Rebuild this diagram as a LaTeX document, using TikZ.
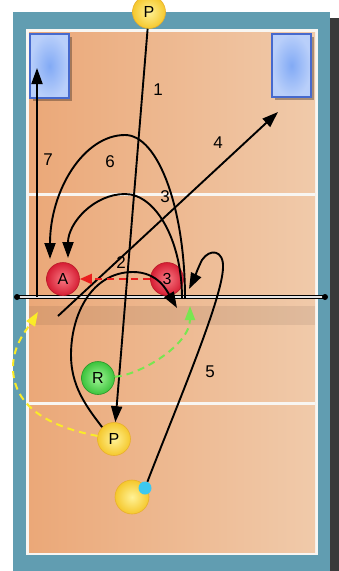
\documentclass[tikz,border=0pt]{standalone}
\usepackage{fontspec}
\setmainfont{Liberation Sans}
\usetikzlibrary{arrows.meta}
\definecolor{framec}{RGB}{97,157,177}
\definecolor{shadowc}{RGB}{58,58,58}
\definecolor{courtL}{RGB}{235,168,120}
\definecolor{courtR}{RGB}{240,202,170}
\definecolor{lineW}{RGB}{248,246,242}
\definecolor{blueIn}{RGB}{130,170,245}
\definecolor{blueOut}{RGB}{185,207,250}
\definecolor{blueB}{RGB}{70,105,205}
\definecolor{yelIn}{RGB}{255,242,150}
\definecolor{yelOut}{RGB}{245,200,45}
\definecolor{yelB}{RGB}{232,175,45}
\definecolor{redIn}{RGB}{248,120,130}
\definecolor{redOut}{RGB}{214,30,52}
\definecolor{redB}{RGB}{185,25,40}
\definecolor{grnIn}{RGB}{160,245,150}
\definecolor{grnOut}{RGB}{60,195,60}
\definecolor{grnB}{RGB}{40,150,40}
\definecolor{dotc}{RGB}{60,200,240}
\definecolor{ydashc}{RGB}{250,235,40}
\definecolor{gdashc}{RGB}{120,230,80}
\definecolor{rdashc}{RGB}{235,30,30}
\tikzset{
  player/.style={circle, minimum size=33pt, inner sep=0pt, font=\fontsize{16}{16}\selectfont, line width=0.6pt},
  yplayer/.style={player, shading=radial, inner color=yelIn, outer color=yelOut, draw=yelB},
  rplayer/.style={player, shading=radial, inner color=redIn, outer color=redOut, draw=redB},
  gplayer/.style={player, shading=radial, inner color=grnIn, outer color=grnOut, draw=grnB},
  lab/.style={font=\fontsize{17}{17}\selectfont, inner sep=0pt},
  arr/.style={line width=1.9pt, black, -{Triangle[length=16pt,width=11pt]}},
  rdash/.style={line width=2pt, rdashc, dash pattern=on 7pt off 5pt, -{Triangle[length=12pt,width=10pt]}},
  gdash/.style={line width=2pt, gdashc, dash pattern=on 7pt off 5pt, -{Triangle[length=14pt,width=10pt]}},
  ydash/.style={line width=2pt, ydashc, dash pattern=on 7pt off 5pt, -{Triangle[length=14pt,width=10pt]}},
  zone/.style={draw=blueB, line width=1.3pt, shading=radial, inner color=blueIn, outer color=blueOut}
}
\begin{document}
\begin{tikzpicture}[x=1pt,y=-1pt]
\useasboundingbox (0,0) rectangle (339,571);
% frame and court
\fill[shadowc] (22,18) rectangle (339,571);
\fill[framec] (13,12) rectangle (330,571);
\fill[lineW] (26,29) rectangle (318,555);
\shade[left color=courtL, right color=courtR] (29,32) rectangle (315,552);
\fill[lineW] (29,192.5) rectangle (315,195.5);
\fill[lineW] (29,401.5) rectangle (315,404.5);
\fill[black, opacity=0.07] (29,306) rectangle (315,325);
% attack zones
\fill[black, opacity=0.3] (33,37) rectangle (72,101);
\fill[black, opacity=0.3] (275,37) rectangle (314,100);
\path[zone] (30,34) rectangle (69,98);
\path[zone] (272,34) rectangle (311,97);
% net
\draw[line width=0.8pt, double=white!80!gray, double distance=1.6pt] (17,297) -- (325,297);
\fill[black] (17,297) circle (3);
\fill[black] (325,297) circle (3);
% players
\node[yplayer] (Ptop) at (149,12) {P};
\node[yplayer] (Pb) at (114,439) {P};
\node[gplayer] (R) at (98,378) {R};
\node[rplayer] (A) at (63,279) {A};
\node[rplayer] (N3) at (167,279) {3};
\node[yplayer, minimum size=34pt] (ball) at (132,497) {};
\node[circle, fill=dotc, minimum size=13pt, inner sep=0pt] (dot) at (145,488) {};
% free ends
\coordinate (n6) at (185,298);
\coordinate (n3) at (182,298);
\coordinate (n7) at (37,297);
\coordinate (t7) at (37,68);
\coordinate (s4) at (58,316);
\coordinate (t4) at (278,112);
\coordinate (t2) at (177,308);
\coordinate (t5) at (189,289);
\coordinate (tg) at (190,306);
\coordinate (ty) at (38,312);
\coordinate (t6) at (50,259);
\coordinate (t3) at (68,258);
% connectors
\draw[arr] (n7) -- (t7);
\draw[arr] (s4) -- (t4);
\draw[arr] (Ptop) -- (Pb);
\draw[arr] (n6) .. controls (185,208) and (158,135) .. (125,135) .. controls (84,135) and (50,190) .. (t6);
\draw[arr] (n3) .. controls (182,241) and (156,194) .. (125,194) .. controls (94,194) and (68,223) .. (t3);
\draw[arr] (Pb.135) .. controls (85,405) and (71,385) .. (71,355) .. controls (71,314) and (92,272) .. (133,272) .. controls (158,272) and (167,291) .. (t2);
\draw[arr] (dot) .. controls (175,410) and (222,300) .. (223,268) .. controls (224,250) and (210,248) .. (202,260) .. controls (197,270) and (194,279) .. (t5);
\draw[rdash] (N3) -- (A);
\draw[gdash] (R) .. controls (140,375) and (190,345) .. (tg);
\draw[ydash] (Pb) .. controls (55,428) and (15,410) .. (13,370) .. controls (12,345) and (28,328) .. (ty);
% labels
\node[lab] (l1) at (158,90) {1};
\node[lab] (l7) at (48,160) {7};
\node[lab] (l6) at (110,162) {6};
\node[lab] (l4) at (218,143) {4};
\node[lab] (l3) at (165,197) {3};
\node[lab] (l2) at (121,263) {2};
\node[lab] (l5) at (210,372) {5};
\end{tikzpicture}
\end{document}
